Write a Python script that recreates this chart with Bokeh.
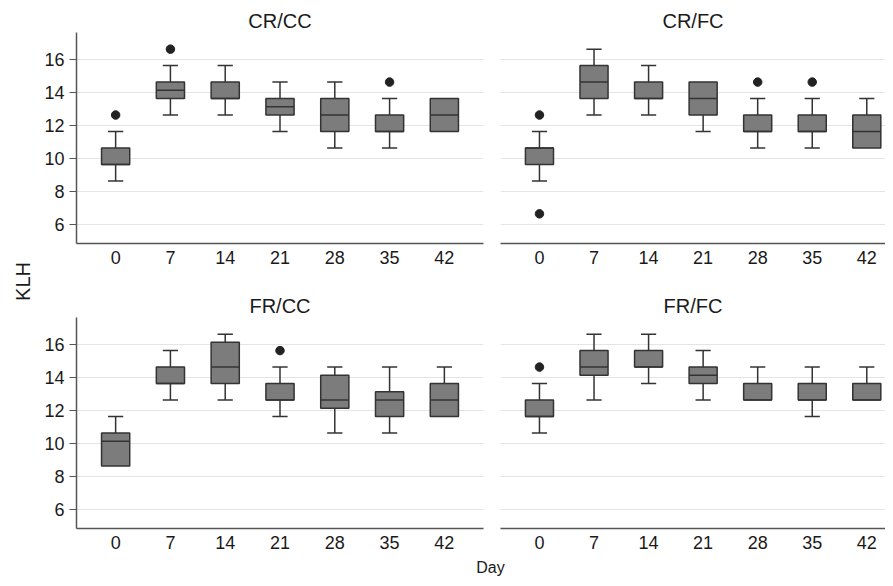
from bokeh.plotting import figure
from bokeh.layouts import row, column
from bokeh.models import Range1d, FixedTicker, ColumnDataSource
from bokeh.embed import file_html
from bokeh.resources import INLINE
from bokeh.core.properties import value
import math

days = [0, 7, 14, 21, 28, 35, 42]
y_ticks = [6, 8, 10, 12, 14, 16]

# CR/CC
crcc_low = [8.64, 12.64, 12.64, 11.64, 10.64, 10.64, 11.64]
crcc_q1 = [9.64, 13.64, 13.64, 12.64, 11.64, 11.64, 11.64]
crcc_med = [9.64, 14.14, 13.64, 13.14, 12.64, 11.64, 12.64]
crcc_q3 = [10.64, 14.64, 14.64, 13.64, 13.64, 12.64, 13.64]
crcc_high = [11.64, 15.64, 15.64, 14.64, 14.64, 13.64, 13.64]
crcc_out_day = [0, 7, 35]
crcc_out_val = [12.64, 16.64, 14.64]

# CR/FC
crfc_low = [8.64, 12.64, 12.64, 11.64, 10.64, 10.64, 10.64]
crfc_q1 = [9.64, 13.64, 13.64, 12.64, 11.64, 11.64, 10.64]
crfc_med = [10.64, 14.64, 13.64, 13.64, 11.64, 11.64, 11.64]
crfc_q3 = [10.64, 15.64, 14.64, 14.64, 12.64, 12.64, 12.64]
crfc_high = [11.64, 16.64, 15.64, 14.64, 13.64, 13.64, 13.64]
crfc_out_day = [0, 0, 28, 35]
crfc_out_val = [12.64, 6.64, 14.64, 14.64]

# FR/CC
frcc_low = [8.64, 12.64, 12.64, 11.64, 10.64, 10.64, 11.64]
frcc_q1 = [8.64, 13.64, 13.64, 12.64, 12.14, 11.64, 11.64]
frcc_med = [10.14, 13.64, 14.64, 12.64, 12.64, 12.64, 12.64]
frcc_q3 = [10.64, 14.64, 16.14, 13.64, 14.14, 13.14, 13.64]
frcc_high = [11.64, 15.64, 16.64, 14.64, 14.64, 14.64, 14.64]
frcc_out_day = [21]
frcc_out_val = [15.64]

# FR/FC
frfc_low = [10.64, 12.64, 13.64, 12.64, 12.64, 11.64, 12.64]
frfc_q1 = [11.64, 14.14, 14.64, 13.64, 12.64, 12.64, 12.64]
frfc_med = [11.64, 14.64, 14.64, 14.14, 12.64, 12.64, 12.64]
frfc_q3 = [12.64, 15.64, 15.64, 14.64, 13.64, 13.64, 13.64]
frfc_high = [13.64, 16.64, 16.64, 15.64, 14.64, 14.64, 14.64]
frfc_out_day = [0]
frfc_out_val = [14.64]

FONT = "Liberation Sans"
BOX_W = 3.6
CAP_W = 1.95


def make_panel(title, low, q1, med, q3, high, out_d, out_v, show_y,
               width, height, xmax, bl, br, bt, bb):
    p = figure(width=width, height=height, x_range=Range1d(-5, xmax),
               y_range=Range1d(4.84, 17.65), output_backend="svg",
               toolbar_location=None, title=title,
               min_border_left=bl, min_border_right=br,
               min_border_top=bt, min_border_bottom=bb)
    p.title.align = "center"
    p.title.text_font = FONT
    p.title.text_font_size = "20px"
    p.title.text_font_style = "normal"
    p.title.text_color = "#1a1a1a"
    p.title.standoff = 1
    p.outline_line_color = None
    p.background_fill_color = "white"
    p.border_fill_color = "white"

    p.xgrid.visible = False
    p.ygrid.ticker = FixedTicker(ticks=y_ticks)
    p.ygrid.grid_line_color = "#e4e4e4"
    p.ygrid.grid_line_width = 1.2

    p.xaxis.ticker = FixedTicker(ticks=days)
    p.xaxis.major_tick_out = 0
    p.xaxis.major_tick_in = 0
    p.xaxis.major_tick_line_color = None
    p.xaxis.minor_tick_line_color = None
    p.xaxis.axis_line_color = "#555555"
    p.xaxis.axis_line_width = 1.5
    p.xaxis.major_label_text_font = FONT
    p.xaxis.major_label_text_font_size = "18px"
    p.xaxis.major_label_text_color = "#1a1a1a"
    p.xaxis.major_label_standoff = 7

    if show_y:
        p.yaxis.ticker = FixedTicker(ticks=y_ticks)
        p.yaxis.major_tick_out = 7
        p.yaxis.major_tick_in = 0
        p.yaxis.major_tick_line_color = "#555555"
        p.yaxis.major_tick_line_width = 1.2
        p.yaxis.minor_tick_line_color = None
        p.yaxis.axis_line_color = "#555555"
        p.yaxis.axis_line_width = 1.5
        p.yaxis.major_label_text_font = FONT
        p.yaxis.major_label_text_font_size = "18px"
        p.yaxis.major_label_text_color = "#1a1a1a"
        p.yaxis.major_label_standoff = 5
    else:
        p.yaxis.visible = False

    # whiskers (only where they extend beyond the box)
    up = [(d, a, b) for d, a, b in zip(days, q3, high) if b > a]
    dn = [(d, a, b) for d, a, b in zip(days, q1, low) if b < a]
    for seg in (up, dn):
        if seg:
            src = ColumnDataSource(dict(
                x=[s[0] for s in seg], y0=[s[1] for s in seg], y1=[s[2] for s in seg],
                cx0=[s[0] - CAP_W / 2 for s in seg], cx1=[s[0] + CAP_W / 2 for s in seg]))
            p.segment(x0="x", x1="x", y0="y0", y1="y1", source=src,
                      line_color="#333333", line_width=1.5)
            p.segment(x0="cx0", x1="cx1", y0="y1", y1="y1", source=src,
                      line_color="#333333", line_width=1.5)

    # boxes
    p.vbar(x=days, width=BOX_W, bottom=q1, top=q3, fill_color="#7c7c7c",
           line_color="#333333", line_width=1.5)
    # medians
    p.segment(x0=[d - BOX_W / 2 for d in days], x1=[d + BOX_W / 2 for d in days],
              y0=med, y1=med, line_color="#333333", line_width=1.5)
    # outliers
    if out_d:
        p.scatter(x=out_d, y=out_v, size=8.5, fill_color="#222222",
                  line_color="#222222")
    return p


tl = make_panel("CR/CC", crcc_low, crcc_q1, crcc_med, crcc_q3, crcc_high,
                crcc_out_day, crcc_out_val, True, 460, 280, 47, 44, 9, 32, 37)
tr = make_panel("CR/FC", crfc_low, crfc_q1, crfc_med, crfc_q3, crfc_high,
                crfc_out_day, crfc_out_val, False, 393, 280, 44.4, 8, 0, 32, 37)
bl = make_panel("FR/CC", frcc_low, frcc_q1, frcc_med, frcc_q3, frcc_high,
                frcc_out_day, frcc_out_val, True, 460, 275, 47, 44, 9, 37, 27)
br = make_panel("FR/FC", frfc_low, frfc_q1, frfc_med, frfc_q3, frfc_high,
                frfc_out_day, frfc_out_val, False, 393, 275, 44.4, 8, 0, 37, 27)


def strip(w, h):
    s = figure(width=w, height=h, x_range=Range1d(0, w), y_range=Range1d(0, h),
               output_backend="svg", toolbar_location=None, title=None,
               x_axis_type=None, y_axis_type=None, min_border=0)
    s.outline_line_color = None
    s.grid.visible = False
    return s


klh = strip(32, 578)
klh.text(x=[22], y=[297], text=["KLH"], angle=math.pi / 2,
         text_font=value(FONT), text_font_size="20px", text_color="#1a1a1a",
         text_align="center", text_baseline="middle")

day = strip(853, 23)
day.text(x=[458], y=[11.5], text=["Day"], text_font=value(FONT),
         text_font_size="16px", text_color="#1a1a1a",
         text_align="center", text_baseline="middle")

layout = row(klh, column(row(tl, tr), row(bl, br), day))

open("out.html", "w").write(file_html(layout, INLINE))
